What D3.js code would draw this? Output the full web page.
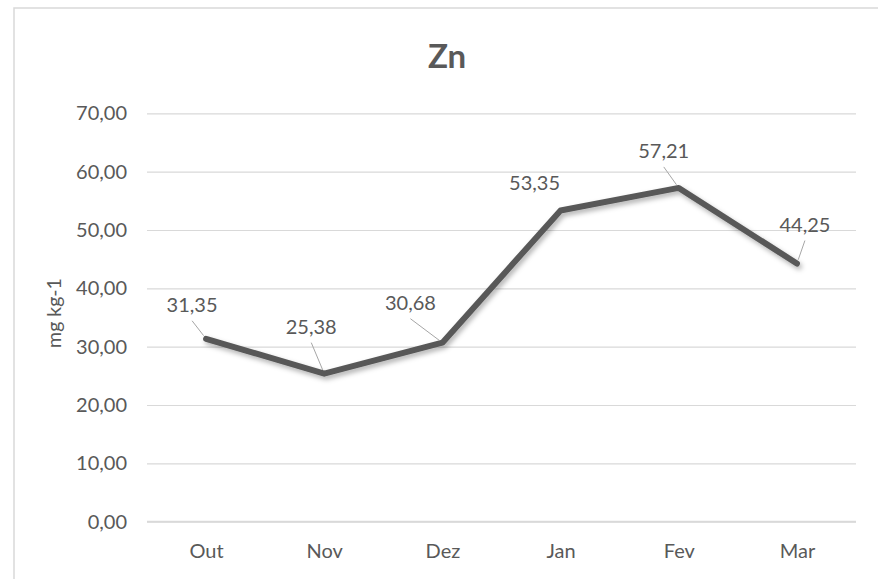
<!DOCTYPE html>
<html>
<head>
<meta charset="utf-8">
<script src="https://cdn.jsdelivr.net/npm/d3@7"></script>
<style>
  body { margin: 0; background: #fff; }
  text { font-family: Lato, "Open Sans", sans-serif; fill: #595959; }
</style>
</head>
<body>
<script>
// data
let months = ['Out', 'Nov', 'Dez', 'Jan', 'Fev', 'Mar'];
let zinc = [31.35, 25.38, 30.68, 53.35, 57.21, 44.25];
let yTicks = [0, 10, 20, 30, 40, 50, 60, 70];

// where each data label sits relative to its point (dx, dy of baseline), and if it has a leader line
let labelOffsets = [
  { dx: -14, dy: -27, leader: true },
  { dx: -13, dy: -40, leader: true },
  { dx: -32, dy: -33, leader: true },
  { dx: -26, dy: -20, leader: false },
  { dx: -15, dy: -30, leader: true },
  { dx: 8, dy: -32, leader: true }
];

let width = 878;
let height = 579;
let plotLeft = 147, plotRight = 856, plotTop = 113.3, plotBottom = 521.7;

let fmt = (v) => d3.format('.2f')(v).replace('.', ',');

let svg = d3.select('body').append('svg')
            .attr('width', width)
            .attr('height', height);

let defs = svg.append('defs');
let shadow = defs.append('filter').attr('id', 'shadow')
                 .attr('x', '-10%').attr('y', '-20%').attr('width', '130%').attr('height', '150%');
shadow.append('feDropShadow')
      .attr('dx', 2).attr('dy', 3).attr('stdDeviation', 2.5)
      .attr('flood-color', '#000').attr('flood-opacity', 0.3);

// chart border (only top and left show in the crop)
svg.append('rect')
   .attr('x', 14).attr('y', 8)
   .attr('width', 900).attr('height', 600)
   .attr('fill', 'none')
   .attr('stroke', '#d9d9d9')
   .attr('stroke-width', 1.5);

let x = d3.scalePoint()
          .domain(months)
          .range([plotLeft, plotRight])
          .padding(0.5);
let y = d3.scaleLinear()
          .domain([0, 70])
          .range([plotBottom, plotTop]);

// gridlines + y tick labels
let yAxis = d3.axisLeft(y)
              .tickValues(yTicks)
              .tickSize(-(plotRight - plotLeft))
              .tickPadding(20)
              .tickFormat(fmt);
let gy = svg.append('g').attr('transform', 'translate(' + plotLeft + ',0)').call(yAxis);
gy.select('.domain').remove();
gy.selectAll('.tick line').attr('stroke', '#d9d9d9').attr('stroke-width', 1.2);
gy.selectAll('.tick text').attr('font-size', 20).attr('fill', '#595959');

// x axis line + category labels
let xAxis = d3.axisBottom(x).tickSize(0).tickPadding(22);
let gx = svg.append('g').attr('transform', 'translate(0,' + plotBottom + ')').call(xAxis);
gx.select('.domain').attr('d', 'M' + plotLeft + ',0H' + plotRight).attr('stroke', '#d9d9d9').attr('stroke-width', 1.8);
gx.selectAll('.tick text').attr('font-size', 20).attr('fill', '#595959');

// title
svg.append('text')
   .attr('x', 447).attr('y', 68)
   .attr('text-anchor', 'middle')
   .attr('font-size', 33)
   .attr('font-weight', 'bold')
   .text('Zn');

// y axis title
svg.append('text')
   .attr('transform', 'translate(61,313) rotate(-90)')
   .attr('text-anchor', 'middle')
   .attr('font-size', 19.5)
   .text('mg kg-1');

// the line
let line = d3.line()
             .x((d, i) => x(months[i]))
             .y((d) => y(d));
svg.append('path')
   .attr('d', line(zinc))
   .attr('fill', 'none')
   .attr('stroke', '#595959')
   .attr('stroke-width', 6)
   .attr('stroke-linecap', 'round')
   .attr('stroke-linejoin', 'round')
   .attr('filter', 'url(#shadow)');

// data labels with leader lines
zinc.forEach((d, i) => {
  let px = x(months[i]), py = y(d);
  let o = labelOffsets[i];
  let lx = px + o.dx, ly = py + o.dy;
  if (o.leader) {
    let sx = lx, sy = ly + 9;
    let len = Math.hypot(px - sx, py - sy);
    let ex = px - (px - sx) / len * 4, ey = py - (py - sy) / len * 4;
    svg.append('line')
       .attr('x1', sx).attr('y1', sy)
       .attr('x2', ex).attr('y2', ey)
       .attr('stroke', '#a6a6a6')
       .attr('stroke-width', 1);
  }
  svg.append('text')
     .attr('x', lx).attr('y', ly)
     .attr('text-anchor', 'middle')
     .attr('font-size', 20)
     .text(fmt(d));
});
</script>
</body>
</html>
